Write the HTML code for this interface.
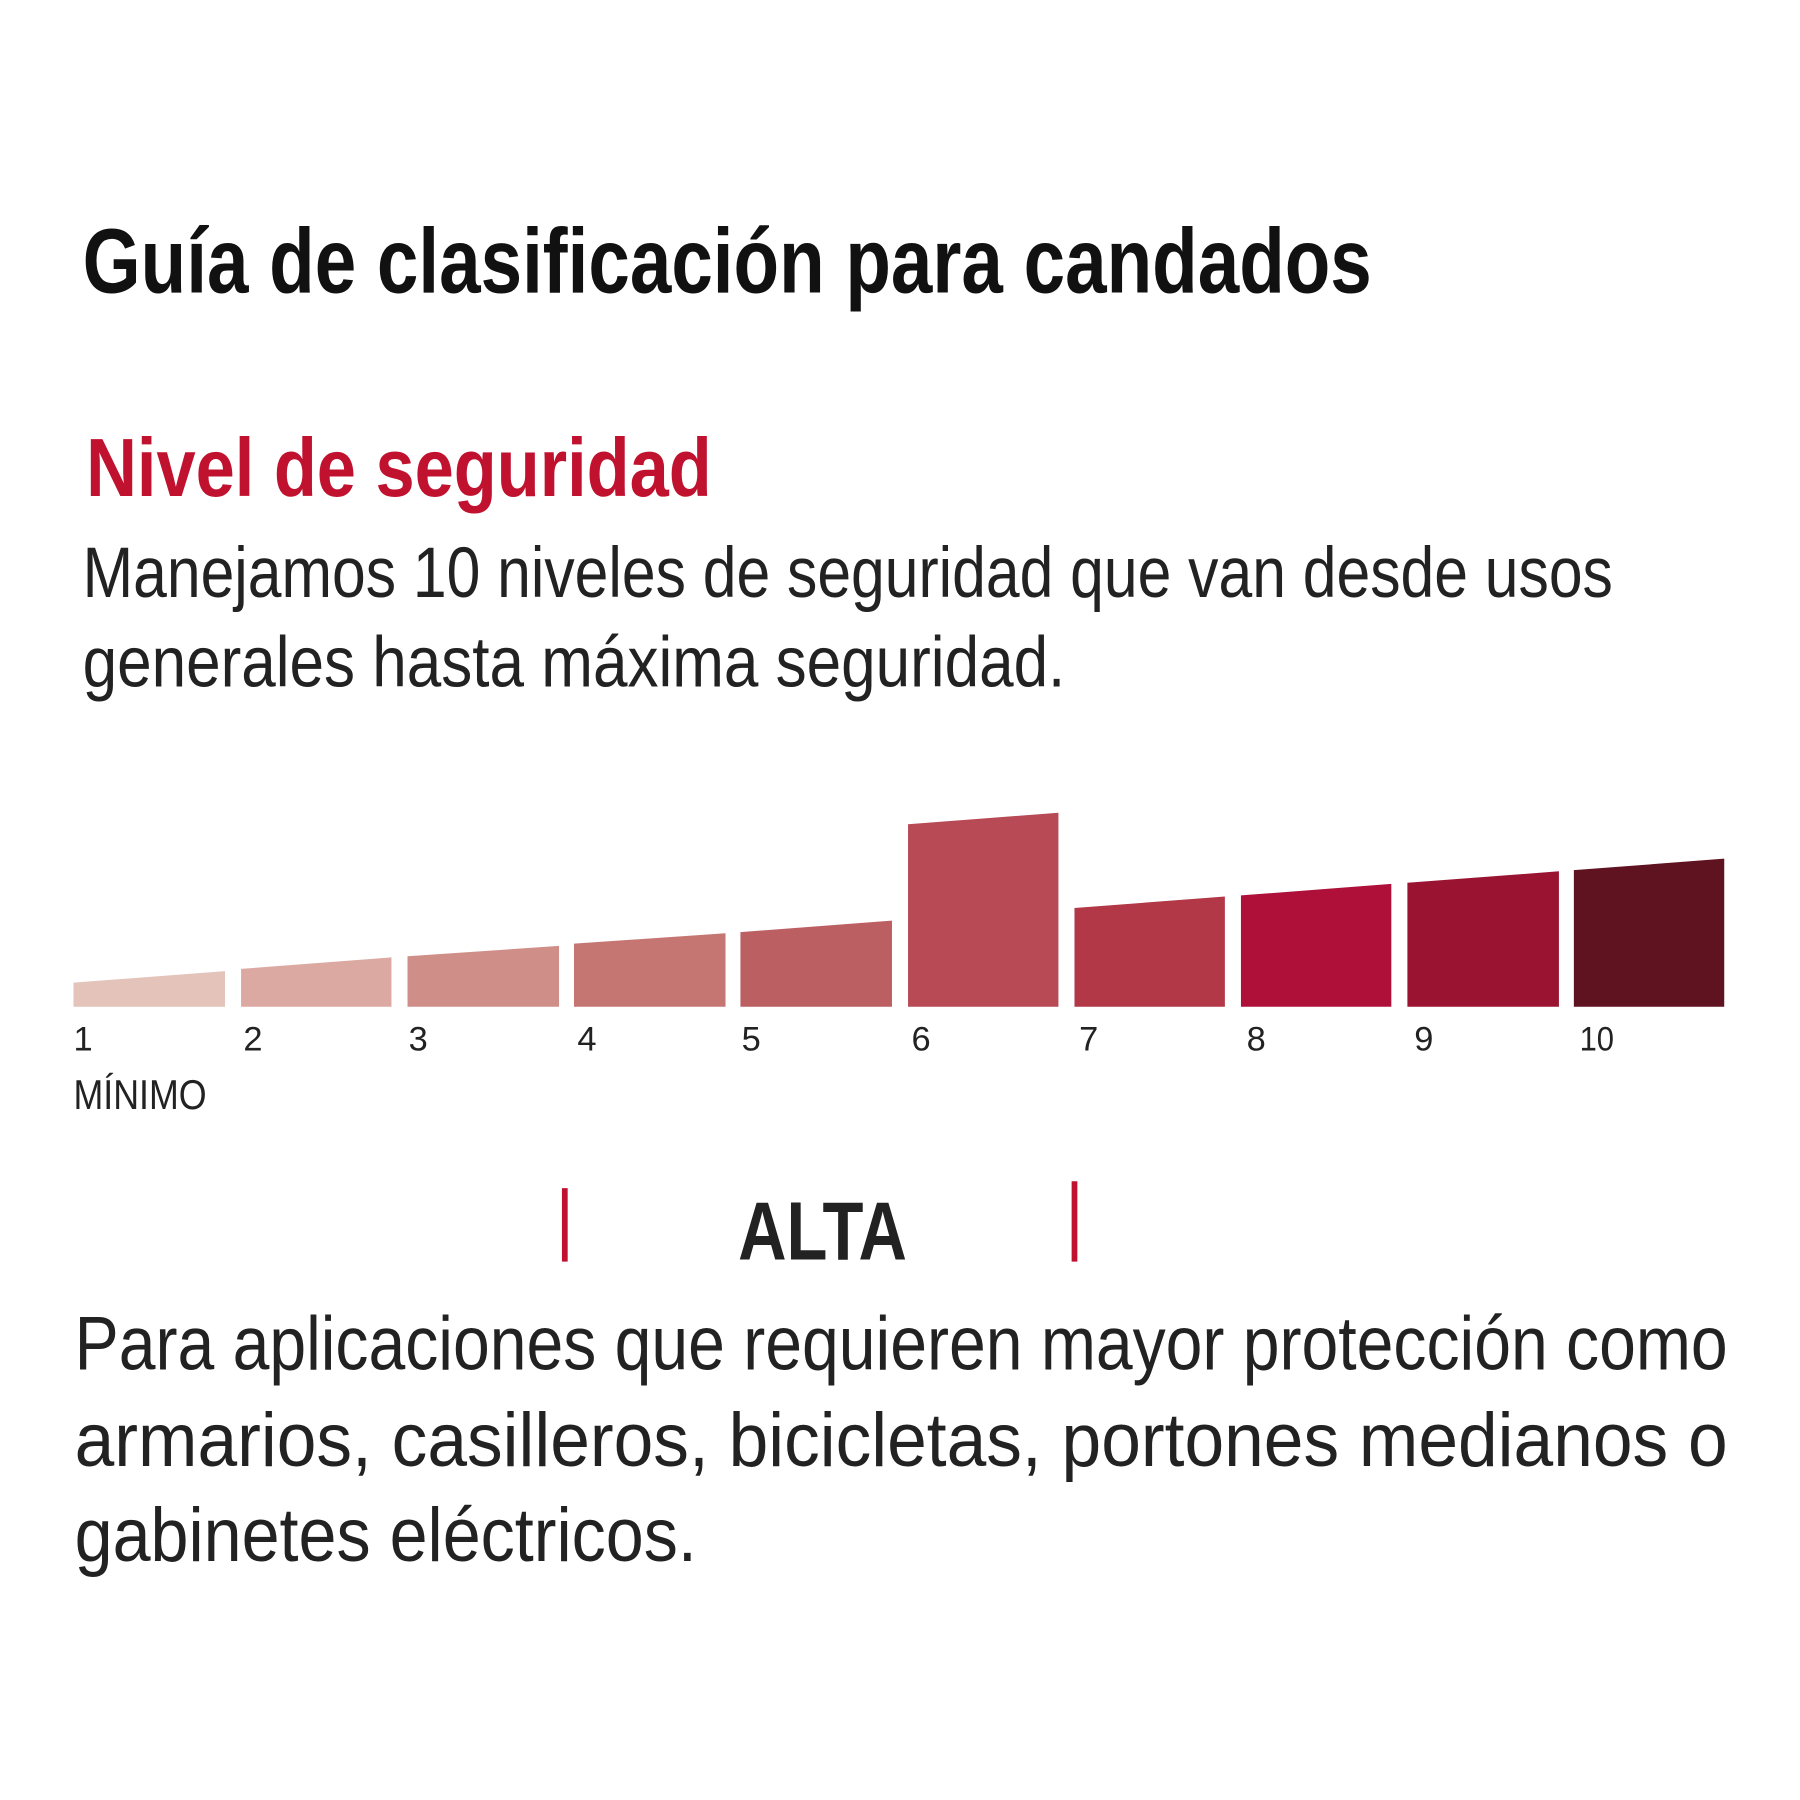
<!DOCTYPE html>
<html><head><meta charset="utf-8"><style>html,body{margin:0;padding:0;background:#fff}svg{display:block}</style></head>
<body>
<svg width="1800" height="1800" viewBox="0 0 1568 1568" xmlns="http://www.w3.org/2000/svg" font-family="'Liberation Sans', sans-serif">
<rect width="1568" height="1568" fill="#fff"/>
<text x="72" y="255" font-size="80" font-weight="bold" fill="#111" textLength="1123" lengthAdjust="spacingAndGlyphs">Guía de clasificación para candados</text>
<text x="75" y="432" font-size="72" font-weight="bold" fill="#c0112f" textLength="545" lengthAdjust="spacingAndGlyphs">Nivel de seguridad</text>
<text x="72" y="520" font-size="62" fill="#222" textLength="1333" lengthAdjust="spacingAndGlyphs">Manejamos 10 niveles de seguridad que van desde usos</text>
<text x="72" y="598" font-size="62" fill="#222" textLength="856" lengthAdjust="spacingAndGlyphs">generales hasta máxima seguridad.</text>
<polygon points="64,856 196,846 196,877 64,877" fill="#e3c3ba"/>
<polygon points="210,844 341,834 341,877 210,877" fill="#dba8a2"/>
<polygon points="355,833 487,824 487,877 355,877" fill="#d08e88"/>
<polygon points="500,822 632,813 632,877 500,877" fill="#c57673"/>
<polygon points="645,812 777,802 777,877 645,877" fill="#bc5f62"/>
<polygon points="791,718 922,708 922,877 791,877" fill="#b74a55"/>
<polygon points="936,791 1067,781 1067,877 936,877" fill="#b23747"/>
<polygon points="1081,780 1212,770 1212,877 1081,877" fill="#ae103a"/>
<polygon points="1226,769 1358,759 1358,877 1226,877" fill="#9a1431"/>
<polygon points="1371,758 1502,748 1502,877 1371,877" fill="#5f121f"/>
<g font-size="30" fill="#222">
<text x="64" y="915">1</text><text x="212" y="915">2</text><text x="356" y="915">3</text><text x="503" y="915">4</text><text x="646" y="915">5</text><text x="794" y="915">6</text><text x="940" y="915">7</text><text x="1086" y="915">8</text><text x="1232" y="915">9</text><text x="1376" y="915" textLength="30" lengthAdjust="spacingAndGlyphs">10</text>
</g>
<text x="64" y="966" font-size="36" fill="#222" textLength="116" lengthAdjust="spacingAndGlyphs">MÍNIMO</text>
<rect x="489.5" y="1035" width="5" height="64" fill="#c0112f"/>
<rect x="933.5" y="1029" width="5" height="70" fill="#c0112f"/>
<text x="643" y="1097" font-size="72" font-weight="bold" fill="#222" textLength="147" lengthAdjust="spacingAndGlyphs">ALTA</text>
<text x="65" y="1193" font-size="66" fill="#222" textLength="1440" lengthAdjust="spacingAndGlyphs">Para aplicaciones que requieren mayor protección como</text>
<text x="65" y="1277" font-size="66" fill="#222" textLength="1440" lengthAdjust="spacingAndGlyphs">armarios,  casilleros,  bicicletas,  portones  medianos  o</text>
<text x="65" y="1360" font-size="66" fill="#222" textLength="542" lengthAdjust="spacingAndGlyphs">gabinetes eléctricos.</text>
</svg>
</body></html>
